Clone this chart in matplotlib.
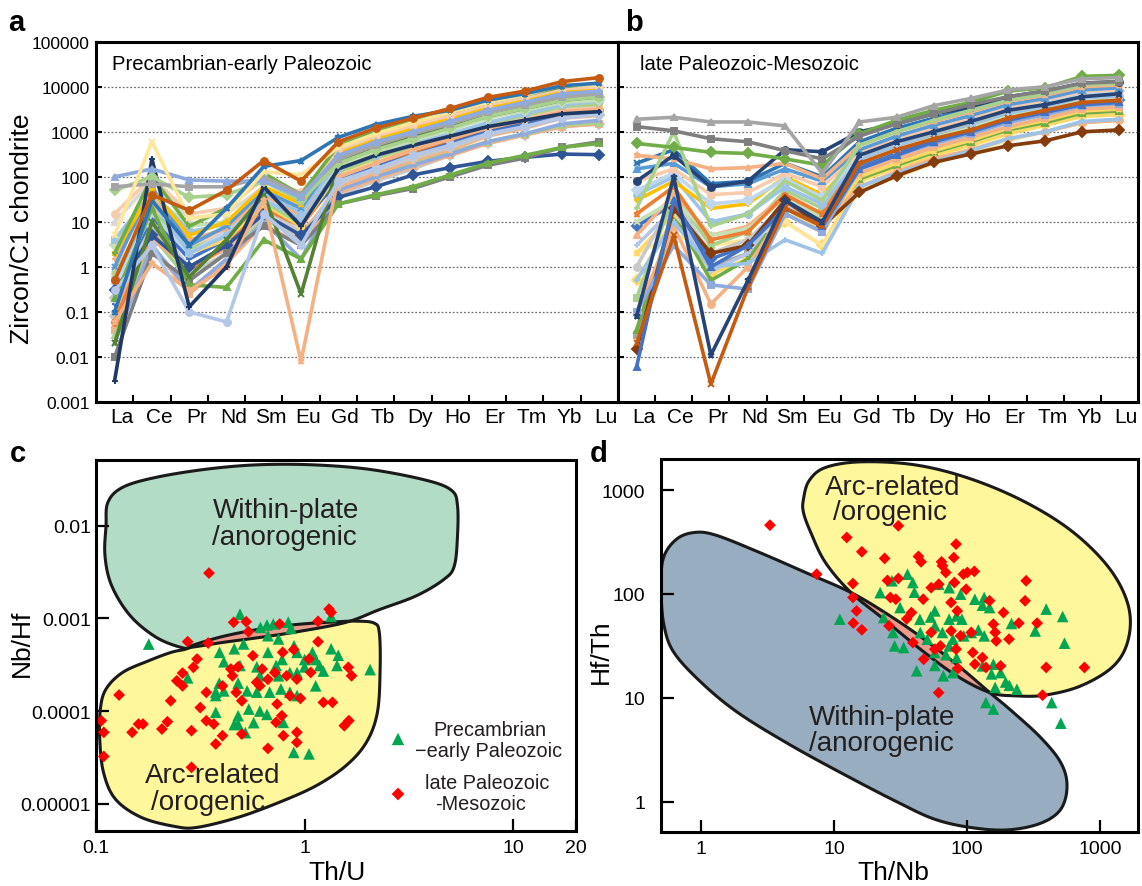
import numpy as np
import matplotlib
matplotlib.use('Agg')
import matplotlib.pyplot as plt
from matplotlib.patches import Polygon
from matplotlib.ticker import FixedLocator, NullLocator, FuncFormatter
import matplotlib.transforms as mtransforms

# ---------------- data ----------------
ree = ['La', 'Ce', 'Pr', 'Nd', 'Sm', 'Eu', 'Gd', 'Tb', 'Dy', 'Ho', 'Er', 'Tm', 'Yb', 'Lu']
a_title = 'Precambrian-early Paleozoic'
b_title = 'late Paleozoic-Mesozoic'
spider_yticks = [0.001, 0.01, 0.1, 1, 10, 100, 1000, 10000, 100000]

a_rows = [
    [0.08, 10, 1, 3, 20, 6, 40, 80, 150, 300, 550, 850, 1300, 1500],
    [0.04, 3, 0.25, 1.2, 9, 3, 45, 90, 170, 300, 550, 850, 1300, 1500],
    [0.03, 5, 0.5, 2, 12, 4, 60, 110, 200, 350, 600, 900, 1400, 1600],
    [0.02, 3, 0.3, 1.5, 10, 1.5, 50, 100, 180, 320, 600, 900, 1500, 1800],
    [0.1, 4, 1, 2.5, 15, 5, 60, 120, 230, 400, 800, 1200, 2000, 2300],
    [0.06, 6, 0.8, 3, 20, 8, 90, 180, 350, 600, 1100, 1700, 2700, 3000],
    [0.15, 12, 1.5, 4, 25, 10, 80, 170, 300, 550, 1000, 1500, 2400, 2800],
    [0.2, 8, 0.7, 2, 15, 4, 70, 140, 260, 450, 850, 1300, 2100, 2400],
    [0.5, 25, 2, 4, 25, 8, 120, 250, 450, 800, 1500, 2200, 3500, 4000],
    [0.8, 20, 3, 6, 35, 15, 100, 200, 400, 700, 1300, 2000, 3200, 3600],
    [0.7, 18, 2.5, 5, 28, 9, 130, 260, 480, 820, 1500, 2300, 3600, 4100],
    [0.4, 15, 2, 6, 30, 18, 200, 380, 700, 1200, 2200, 3200, 5000, 5500],
    [0.5, 30, 2, 5, 30, 12, 150, 300, 550, 900, 1600, 2500, 4000, 4800],
    [1.5, 35, 4, 7, 40, 14, 250, 500, 850, 1400, 2500, 3700, 5800, 6300],
    [3, 40, 8, 10, 50, 20, 180, 350, 650, 1100, 2000, 3000, 4500, 5000],
    [4, 45, 6, 9, 45, 16, 220, 450, 800, 1300, 2400, 3500, 5500, 6000],
    [10, 80, 12, 15, 60, 30, 300, 550, 900, 1500, 2700, 4000, 6000, 6500],
    [1, 60, 3, 8, 50, 20, 300, 600, 1000, 1700, 3000, 4500, 7000, 8000],
    [2, 50, 5, 10, 60, 25, 350, 700, 1200, 2000, 3500, 5000, 8000, 9000],
    [15, 100, 15, 20, 90, 45, 400, 800, 1400, 2300, 4000, 5800, 9000, 10000],
    [2, 100, 8, 20, 120, 40, 500, 1000, 1700, 2700, 4500, 6500, 10000, 12000],
    [0.3, 5, 1, 3, 15, 5, 35, 60, 110, 160, 220, 270, 320, 310],
    [0.01, 2, 0.5, 2, 8, 3, 25, 38, 55, 100, 180, 260, 450, 600],
    [0.2, 20, 0.4, 0.35, 4, 1.5, 25, 40, 60, 110, 200, 300, 450, 550],
    [0.02, 10, 0.6, 4, 40, 0.25, 200, 450, 800, 1300, 2200, 3300, 5000, 6000],
    [0.06, 1.2, 0.3, 1, 30, 0.008, 100, 200, 400, 700, 1200, 1800, 2800, 3200],
    [0.3, 3, 0.1, 0.06, 15, 3, 80, 150, 300, 500, 900, 1300, 2000, 2500],
    [0.003, 250, 0.13, 1.0, 60, 8, 150, 300, 500, 800, 1300, 1800, 2500, 2800],
    [50, 100, 35, 40, 80, 30, 200, 400, 700, 1200, 2200, 3300, 5000, 6000],
    [60, 70, 60, 60, 100, 40, 250, 500, 900, 1500, 2700, 4000, 6000, 7000],
    [100, 150, 85, 80, 80, 35, 300, 600, 1000, 1700, 3000, 4500, 7000, 8000],
    [5, 600, 12, 15, 130, 110, 450, 900, 1600, 2700, 4500, 6500, 11000, 11000],
    [0.1, 30, 3, 20, 170, 230, 750, 1450, 2200, 3000, 5000, 7000, 10500, 12000],
    [0.5, 40, 18, 50, 230, 80, 600, 1200, 2000, 3300, 5800, 8000, 13000, 16000],
]
a_colors = ['#c9c9c9', '#f4b183', '#a9d18e', '#8faadc', '#f4b183', '#ed7d31', '#4472c4',
            '#c9c9c9', '#ffd966', '#f8cbad', '#a9d18e', '#bdd7ee', '#9dc3e6', '#f4b183',
            '#c5e0b4', '#9dc3e6', '#d9d9d9', '#5b9bd5', '#ffc000', '#f8cbad', '#70ad47',
            '#2f5597', '#7f7f7f', '#70ad47', '#548235', '#f4b183', '#b4c7e7', '#203864',
            '#a9d18e', '#a5a5a5', '#8faadc', '#ffe699', '#2e75b6', '#c55a11']

b_rows = [
    [0.5, 12, 0.7, 1.5, 10, 3, 80, 160, 300, 500, 900, 1400, 2200, 2400],
    [0.03, 10, 1, 2, 15, 6, 100, 200, 400, 650, 1200, 1800, 2800, 3100],
    [0.04, 15, 0.5, 1.5, 20, 8, 90, 180, 350, 600, 1100, 1600, 2600, 2900],
    [2, 5, 3, 4, 10, 3, 50, 100, 200, 350, 650, 1000, 1600, 1800],
    [2, 15, 2, 4, 20, 6, 100, 200, 380, 650, 1200, 1800, 2900, 3200],
    [1, 30, 2, 4, 25, 10, 200, 400, 750, 1200, 2200, 3200, 5000, 5500],
    [3, 20, 0.8, 2, 25, 12, 150, 300, 550, 950, 1700, 2500, 4000, 4400],
    [8, 25, 1.5, 3, 30, 10, 180, 350, 650, 1100, 2000, 2900, 4500, 5000],
    [0.2, 40, 3, 6, 50, 20, 350, 700, 1200, 2000, 3500, 5000, 8000, 9000],
    [5, 40, 5, 8, 40, 15, 120, 250, 450, 750, 1300, 2000, 3200, 3500],
    [10, 30, 5, 7, 35, 12, 200, 400, 750, 1250, 2300, 3300, 5200, 5700],
    [15, 60, 4, 6, 40, 15, 250, 500, 900, 1500, 2700, 3800, 6000, 6500],
    [40, 100, 10, 15, 60, 25, 250, 500, 900, 1500, 2600, 3700, 5800, 6200],
    [30, 80, 20, 25, 100, 40, 300, 600, 1000, 1700, 3000, 4200, 6500, 7000],
    [50, 120, 25, 30, 90, 35, 300, 600, 1100, 1800, 3200, 4600, 7200, 8000],
    [80, 150, 40, 45, 120, 60, 350, 700, 1200, 2000, 3500, 5000, 8000, 8500],
    [150, 200, 60, 70, 150, 80, 400, 800, 1400, 2300, 4000, 5500, 8500, 9500],
    [200, 400, 70, 80, 200, 100, 600, 1200, 2000, 3200, 5500, 7500, 11000, 12000],
    [300, 250, 150, 160, 200, 90, 500, 1000, 1700, 2800, 4800, 6500, 10000, 11000],
    [0.1, 8, 0.15, 1, 20, 8, 60, 130, 250, 400, 700, 1000, 1600, 1800],
    [0.5, 10, 1, 1.2, 4, 2, 60, 120, 220, 380, 700, 1000, 1700, 1900],
    [0.015, 20, 2, 3, 30, 8, 45, 105, 210, 320, 490, 630, 1000, 1100],
    [0.1, 3, 0.4, 0.32, 15, 6, 150, 300, 550, 900, 1600, 2400, 3800, 4200],
    [0.006, 30, 1, 3, 20, 8, 150, 300, 600, 1000, 1800, 2700, 4000, 4500],
    [0.02, 5, 0.0025, 0.35, 20, 8, 200, 400, 700, 1100, 2000, 3000, 4500, 5000],
    [0.08, 100, 0.011, 0.5, 30, 10, 300, 600, 1000, 1700, 3000, 4000, 6000, 7000],
    [80, 300, 60, 80, 400, 360, 1000, 1500, 2500, 3500, 6000, 8000, 12000, 13000],
    [20, 1000, 8, 15, 80, 30, 500, 1000, 1800, 3000, 5000, 7000, 11000, 12000],
    [550, 450, 350, 330, 250, 180, 900, 1800, 3000, 4500, 8000, 9500, 17000, 18000],
    [1300, 1050, 700, 600, 380, 250, 800, 1500, 2500, 4000, 6000, 8000, 12000, 13000],
    [1900, 2100, 1650, 1650, 1350, 120, 1650, 2100, 3800, 5500, 8500, 10000, 15000, 16000],
]
b_colors = ['#ffd966', '#a5a5a5', '#70ad47', '#ffe699', '#ffd966', '#c9c9c9', '#b4c7e7',
            '#4472c4', '#a9d18e', '#f4b183', '#c5e0b4', '#ed7d31', '#9dc3e6', '#ffc000',
            '#bdd7ee', '#f8cbad', '#5b9bd5', '#2e75b6', '#f4b183', '#f4b183', '#9dc3e6',
            '#843c0c', '#8faadc', '#4472c4', '#c55a11', '#264478', '#264478', '#a9d18e',
            '#70ad47', '#7f7f7f', '#a5a5a5']

# panel c: Th/U vs Nb/Hf
c_green_thu = [0.179, 0.490, 1.34, 0.614, 0.66, 0.708, 0.835, 0.86, 0.667, 0.75, 0.89, 0.92,
               0.391, 0.46, 0.51, 0.667, 1.09, 1.34, 1.45, 1.43, 1.23, 1.0, 2.06, 0.41, 0.49,
               0.59, 0.75, 0.85, 0.92, 1.13, 0.39, 0.41, 0.375, 0.48, 0.53, 0.59, 0.68, 0.77,
               0.85, 0.92, 0.375, 0.48, 0.54, 0.61, 0.66, 0.48, 0.57, 0.46, 0.52, 0.79, 0.887,
               1.05, 0.275, 0.375, 0.61, 0.73, 0.78, 1.0, 1.13, 1.18]
c_green_nbhf = [5.28e-4, 1.11e-3, 1.05e-3, 8.0e-4, 8.48e-4, 8.7e-4, 9.1e-4, 7.8e-4, 6.5e-4,
                6.0e-4, 5.07e-4, 4.3e-4, 4.3e-4, 4.7e-4, 5.3e-4, 4.3e-4, 4.3e-4, 4.7e-4, 4.0e-4,
                3.1e-4, 2.7e-4, 3.0e-4, 2.8e-4, 3.4e-4, 3.1e-4, 3.0e-4, 2.4e-4, 2.6e-4, 2.6e-4,
                1.87e-4, 2.0e-4, 1.65e-4, 1.47e-4, 2.0e-4, 1.65e-4, 1.6e-4, 1.6e-4, 1.73e-4,
                1.6e-4, 1.47e-4, 9.7e-5, 8.9e-5, 1.05e-4, 1.0e-4, 9.2e-5, 7.2e-5, 7.5e-5,
                7.15e-5, 5.85e-5, 7.55e-5, 3.58e-5, 3.45e-5, 2.28e-4, 1.6e-4, 2.4e-4, 3.1e-4,
                3.6e-4, 3.6e-4, 3.6e-4, 3.1e-4]
c_red_thu = [0.348, 1.31, 1.34, 0.457, 0.525, 0.760, 1.16, 0.275, 0.345, 0.538, 1.16, 0.305,
             0.293, 0.260, 0.244, 0.260, 0.129, 0.228, 0.316, 0.338, 0.106, 0.109, 0.109, 0.149,
             0.160, 0.168, 0.207, 0.220, 0.287, 0.338, 0.367, 0.375, 0.404, 0.287, 0.500, 0.451,
             0.470, 0.500, 0.667, 0.730, 0.738, 0.778, 0.791, 0.918, 0.918, 0.918, 0.851, 0.955,
             1.07, 1.05, 1.23, 1.36, 1.62, 1.68, 1.55, 1.63, 0.626, 0.589, 0.443, 0.565, 0.785,
             0.887, 0.72, 0.82, 0.667, 0.404, 0.48, 0.61]
c_red_nbhf = [3.08e-3, 1.26e-3, 1.16e-3, 9.06e-4, 9.2e-4, 8.69e-4, 9.29e-4, 5.6e-4, 5.42e-4,
              7.18e-4, 5.6e-4, 3.64e-4, 2.96e-4, 2.57e-4, 2.12e-4, 1.87e-4, 1.49e-4, 1.29e-4,
              1.09e-4, 1.59e-4, 7.87e-5, 5.89e-5, 3.24e-5, 5.89e-5, 7.24e-5, 7.24e-5, 6.4e-5,
              7.67e-5, 6.14e-5, 7.87e-5, 7.24e-5, 4.41e-5, 5.42e-5, 2.47e-5, 5.65e-5, 2.4e-4,
              1.59e-4, 1.29e-4, 3.95e-5, 7.55e-5, 1.19e-4, 8.91e-5, 5.42e-5, 5.89e-5, 4.59e-5,
              2.21e-4, 1.46e-4, 1.37e-4, 2.61e-4, 3.64e-4, 1.24e-4, 1.24e-4, 2.96e-4, 2.4e-4,
              6.95e-5, 7.87e-5, 2.84e-4, 2.04e-4, 2.84e-4, 3.95e-4, 4.3e-4, 4.6e-4, 2.6e-4,
              2.4e-4, 2.2e-4, 1.87e-4, 3.0e-4, 1.87e-4]

# panel d: Th/Nb vs Hf/Th
d_green_thnb = [11.0, 22.1, 27.1, 35.5, 38.9, 40, 31.2, 23.5, 27.6, 28.4, 33.2, 41.6, 44.3, 57,
                61, 73, 89, 114, 134, 147, 83, 91, 73, 57, 50, 65, 78, 94, 107, 121, 134, 57,
                69, 83, 73, 57, 66, 78, 130, 157, 178, 194, 207, 236, 162, 152, 138, 157, 392,
                521, 324, 538, 431, 505, 215, 130, 53, 44]
d_green_hfth = [57.2, 103, 134, 155, 129, 104, 74, 59.3, 42.6, 31.6, 30.5, 18.2, 42.6, 68.7,
                124, 115, 99.5, 89, 92.5, 74, 61.5, 57.2, 57.2, 49.3, 36.7, 42.6, 36.7, 39.5,
                42.6, 45, 39.5, 27.3, 26, 24.4, 31.6, 20.5, 16.3, 17.5, 20.3, 21.1, 17.5, 14.2,
                13.2, 12.1, 12.6, 17, 9.0, 7.8, 71.5, 60.7, 44, 33.6, 9.0, 5.7, 52, 78, 60, 57]
d_red_thnb = [3.28, 30.3, 12.4, 16.1, 82.3, 23.9, 42.9, 44.9, 64.0, 65, 79.2, 69.0, 93.4, 100,
              113, 7.37, 13.8, 25.1, 30.3, 53.5, 61, 80, 98, 277, 13.8, 26.4, 29, 46.6, 75.5,
              147, 272, 14.7, 38, 84, 187, 157, 13.9, 16.1, 25.8, 53.5, 75.5, 88.9, 107, 162,
              244, 335, 206, 165, 62.8, 82.3, 110, 130, 39, 47, 57, 114, 138, 178, 392, 760, 85,
              368, 60.9, 35]
d_red_hfth = [460, 453, 350, 255, 302, 220, 230, 204, 204, 187, 224, 161, 155, 161, 165, 155,
              126, 135, 141, 115, 124, 129, 111, 134, 92.5, 92.5, 89, 89, 82.8, 86, 86, 68.7,
              66.2, 68.7, 66.2, 51.2, 52.4, 45.2, 49.3, 42.6, 44.1, 39.5, 42.6, 42.6, 52.4, 52.4,
              36.7, 35.3, 31.6, 29.4, 27.3, 24.4, 34, 23.5, 29.4, 21.1, 19.6, 20.3, 19.6, 19.6,
              19.2, 10.6, 11.2, 57.5]

# discrimination fields (log10 coordinates of outline vertices)
c_within_lx = [-0.952, -0.943, -0.872, -0.711, -0.462, -0.212, 0.055, 0.323, 0.590, 0.706, 0.733,
               0.733, 0.718, 0.670, 0.537, 0.358, 0.198, -0.034, -0.212, -0.390, -0.533, -0.586,
               -0.711, -0.836, -0.925, -0.957]
c_within_ly = [-2.0, -1.748, -1.586, -1.478, -1.388, -1.342, -1.345, -1.396, -1.514, -1.622, -1.784,
               -2.108, -2.432, -2.576, -2.755, -2.906, -3.043, -3.144, -3.205, -3.259, -3.309, -3.317,
               -3.205, -2.971, -2.647, -2.324]
c_arc_lx = [-0.569, -0.533, -0.390, -0.212, -0.034, 0.162, 0.251, 0.332, 0.358, 0.362, 0.349, 0.296,
            0.198, 0.055, -0.123, -0.319, -0.515, -0.622, -0.783, -0.907, -0.964, -0.982, -0.979,
            -0.952, -0.872, -0.747, -0.640]
c_arc_ly = [-3.331, -3.288, -3.194, -3.115, -3.065, -3.036, -3.030, -3.050, -3.151, -3.547, -4.014,
            -4.338, -4.590, -4.806, -4.986, -5.147, -5.255, -5.245, -5.147, -4.950, -4.662, -4.302,
            -3.978, -3.763, -3.583, -3.457, -3.367]
d_within_lx = [-0.302, -0.288, -0.192, -0.055, 0.110, 0.439, 0.796, 1.125, 1.400, 1.674, 1.948,
               2.168, 2.333, 2.552, 2.703, 2.750, 2.703, 2.552, 2.305, 2.031, 1.756, 1.482, 1.070,
               0.659, 0.274, 0.000, -0.206, -0.280]
d_within_ly = [2.014, 2.335, 2.522, 2.592, 2.566, 2.399, 2.200, 2.014, 1.805, 1.565, 1.292, 1.051,
               0.874, 0.617, 0.376, 0.152, -0.073, -0.208, -0.272, -0.250, -0.170, -0.009, 0.264,
               0.553, 0.858, 1.147, 1.436, 1.693]
d_arc_lx = [0.768, 0.810, 0.933, 1.207, 1.619, 2.031, 2.442, 2.799, 3.073, 3.211, 3.211, 3.101,
            2.854, 2.580, 2.360, 2.168, 1.921, 1.647, 1.372, 1.125, 0.933, 0.823, 0.768]
d_arc_ly = [2.913, 3.090, 3.218, 3.273, 3.241, 3.106, 2.881, 2.592, 2.239, 1.886, 1.565, 1.308,
            1.115, 1.025, 1.019, 1.051, 1.211, 1.468, 1.757, 2.014, 2.303, 2.592, 2.785]

# ---------------- figure ----------------
plt.rcParams['font.family'] = ['Liberation Sans', 'DejaVu Sans']
W, H = 1142, 887
fig = plt.figure(figsize=(W / 100, H / 100), dpi=100)


def add_ax(l, t, r, b):
    return fig.add_axes([l / W, 1 - b / H, (r - l) / W, (b - t) / H])


def ftext(x, y, s, **kw):
    return fig.text(x / W, 1 - y / H, s, **kw)


def plain(v, pos=None):
    return np.format_float_positional(v, trim='-')


markers = ['D', 's', '^', 'x', '*', 'o', '+']


def spider(ax, rows, colors, title, title_x, show_y):
    x = np.arange(len(ree))
    for i, (vals, col) in enumerate(zip(rows, colors)):
        mk = markers[i % len(markers)]
        ax.plot(x, vals, color=col, lw=2.6, marker=mk, ms=5, mec=col, mfc=col, mew=1.4,
                solid_joinstyle='round', zorder=2)
    ax.set_yscale('log')
    ax.set_ylim(1e-3, 1e5)
    ax.set_xlim(-0.5, len(ree) - 0.5)
    ax.yaxis.set_major_locator(FixedLocator(spider_yticks))
    ax.yaxis.set_minor_locator(NullLocator())
    ax.yaxis.set_major_formatter(FuncFormatter(plain))
    ax.set_xticks(np.arange(0.5, len(ree) - 1, 1.0))
    ax.set_xticklabels([])
    ax.xaxis.set_minor_locator(NullLocator())
    ax.tick_params(axis='x', direction='in', length=5, width=1.5)
    ax.tick_params(axis='y', direction='in', length=4, width=1.5, labelsize=12.5, pad=4.5,
                   labelleft=show_y)
    ax.grid(axis='y', which='major', ls=(0, (1.5, 1.5)), color='#6e6e6e', lw=0.9, zorder=1)
    ax.set_axisbelow(True)
    for s in ax.spines.values():
        s.set_linewidth(2.2)
    off = mtransforms.ScaledTranslation(7 / 100, 0, fig.dpi_scale_trans)
    trans = mtransforms.blended_transform_factory(ax.transData, ax.transAxes) + off
    for i, el in enumerate(ree):
        ax.text(i, -0.041, el, transform=trans, ha='center', va='center', fontsize=15)
    ax.text(title_x, 0.94, title, transform=ax.transAxes, fontsize=14.6,
            ha='left', va='center')


axa = add_ax(96, 42.7, 618, 403)
spider(axa, a_rows, a_colors, a_title, 0.031, True)
axb = add_ax(618, 42.7, 1138, 403)
spider(axb, b_rows, b_colors, b_title, 0.042, False)

ftext(22, 229, 'Zircon/C1 chondrite', rotation=90, ha='center', va='center', fontsize=19)
ftext(8, 31, 'a', fontsize=21, fontweight='bold', ha='left', va='baseline')
ftext(625, 31, 'b', fontsize=21, fontweight='bold', ha='left', va='baseline')
ftext(10, 462, 'c', fontsize=21, fontweight='bold', ha='left', va='baseline')
ftext(590, 462, 'd', fontsize=21, fontweight='bold', ha='left', va='baseline')


def smooth_closed(lx, ly, n=10):
    P = np.column_stack([lx, ly])
    m = len(P)
    t = np.linspace(0, 1, n, endpoint=False)[:, None]
    out = []
    for i in range(m):
        p0, p1, p2, p3 = P[i - 1], P[i], P[(i + 1) % m], P[(i + 2) % m]
        seg = 0.5 * (2 * p1 + (-p0 + p2) * t + (2 * p0 - 5 * p1 + 4 * p2 - p3) * t ** 2
                     + (-p0 + 3 * p1 - 3 * p2 + p3) * t ** 3)
        out.append(seg)
    return 10 ** np.vstack(out)


def fields(ax, lxa, lya, fca, lxb, lyb, fcb, pink='#e99c8d'):
    pa = smooth_closed(lxa, lya)
    pb = smooth_closed(lxb, lyb)
    A = Polygon(pa, closed=True, fc=fca, ec='none', zorder=1)
    B = Polygon(pb, closed=True, fc=fcb, ec='none', zorder=1.1)
    ax.add_patch(A)
    ax.add_patch(B)
    P = Polygon(pb, closed=True, fc=pink, ec='none', zorder=1.2)
    ax.add_patch(P)
    P.set_clip_path(A)
    for pts in (pa, pb):
        ax.add_patch(Polygon(pts, closed=True, fc='none', ec='#1a1a1a', lw=2.2, zorder=2))


def style_scatter_ax(ax, xlim, ylim, xt, yt, ypad):
    ax.set_xscale('log')
    ax.set_yscale('log')
    ax.set_xlim(*xlim)
    ax.set_ylim(*ylim)
    ax.xaxis.set_major_locator(FixedLocator(xt))
    ax.yaxis.set_major_locator(FixedLocator(yt))
    ax.xaxis.set_minor_locator(NullLocator())
    ax.yaxis.set_minor_locator(NullLocator())
    ax.xaxis.set_major_formatter(FuncFormatter(plain))
    ax.yaxis.set_major_formatter(FuncFormatter(plain))
    ax.tick_params(axis='both', direction='in', length=9, width=1.6, labelsize=14)
    ax.tick_params(axis='x', pad=6)
    ax.tick_params(axis='y', pad=ypad)
    for s in ax.spines.values():
        s.set_linewidth(2.2)
        s.set_zorder(5)


GREEN = '#00a651'
RED = '#ff0000'

# panel c
axc = add_ax(96, 460.7, 576, 832)
style_scatter_ax(axc, (0.1, 20), (5.08e-6, 0.0515), [0.1, 1, 10, 20], [1e-5, 1e-4, 1e-3, 1e-2], 3.6)
fields(axc, c_within_lx, c_within_ly, '#b3dcc7', c_arc_lx, c_arc_ly, '#fff79c')
axc.scatter(c_green_thu, c_green_nbhf, marker='^', s=70, c=GREEN, edgecolors='none', zorder=4)
axc.scatter(c_red_thu, c_red_nbhf, marker='D', s=36, c=RED, edgecolors='none', zorder=4)
axc.scatter([(398 - 96) / 480], [1 - (740 - 460.7) / 371.3], marker='^', s=80, c=GREEN,
            edgecolors='none', transform=axc.transAxes, zorder=4, clip_on=False)
axc.scatter([(398 - 96) / 480], [1 - (795 - 460.7) / 371.3], marker='D', s=42, c=RED,
            edgecolors='none', transform=axc.transAxes, zorder=4, clip_on=False)

TXT = '#231f20'
ftext(213, 518, 'Within-plate', fontsize=20, color=TXT, ha='left', va='baseline')
ftext(212, 545, '/anorogenic', fontsize=20, color=TXT, ha='left', va='baseline')
ftext(145, 783, 'Arc-related', fontsize=20, color=TXT, ha='left', va='baseline')
ftext(151, 810, '/orogenic', fontsize=20, color=TXT, ha='left', va='baseline')
ftext(490, 736, 'Precambrian', fontsize=14.3, color=TXT, ha='center', va='baseline')
ftext(489, 757, '\u2212early Paleozoic', fontsize=14.3, color=TXT, ha='center', va='baseline')
ftext(487, 789, 'late Paleozoic', fontsize=14.3, color=TXT, ha='center', va='baseline')
ftext(481, 810, '-Mesozoic', fontsize=14.3, color=TXT, ha='center', va='baseline')
ftext(22, 643, 'Nb/Hf', rotation=90, fontsize=19, ha='center', va='center')
ftext(337, 873, 'Th/U', fontsize=19, ha='center', va='center')

# panel d
axd = add_ax(660.5, 460, 1137.5, 833)
style_scatter_ax(axd, (0.493, 1905), (0.51, 1995), [1, 10, 100, 1000], [1, 10, 100, 1000], 11)
fields(axd, d_within_lx, d_within_ly, '#98aec0', d_arc_lx, d_arc_ly, '#fff79c')
axd.scatter(d_green_thnb, d_green_hfth, marker='^', s=70, c=GREEN, edgecolors='none', zorder=4)
axd.scatter(d_red_thnb, d_red_hfth, marker='D', s=36, c=RED, edgecolors='none', zorder=4)

ftext(825, 495, 'Arc-related', fontsize=20, color=TXT, ha='left', va='baseline')
ftext(833, 520, '/orogenic', fontsize=20, color=TXT, ha='left', va='baseline')
ftext(809, 725, 'Within-plate', fontsize=20, color=TXT, ha='left', va='baseline')
ftext(809, 751, '/anorogenic', fontsize=20, color=TXT, ha='left', va='baseline')
ftext(601, 652, 'Hf/Th', rotation=90, fontsize=19, ha='center', va='center')
ftext(893, 873, 'Th/Nb', fontsize=19, ha='center', va='center')

fig.savefig('out.png', dpi=100)
